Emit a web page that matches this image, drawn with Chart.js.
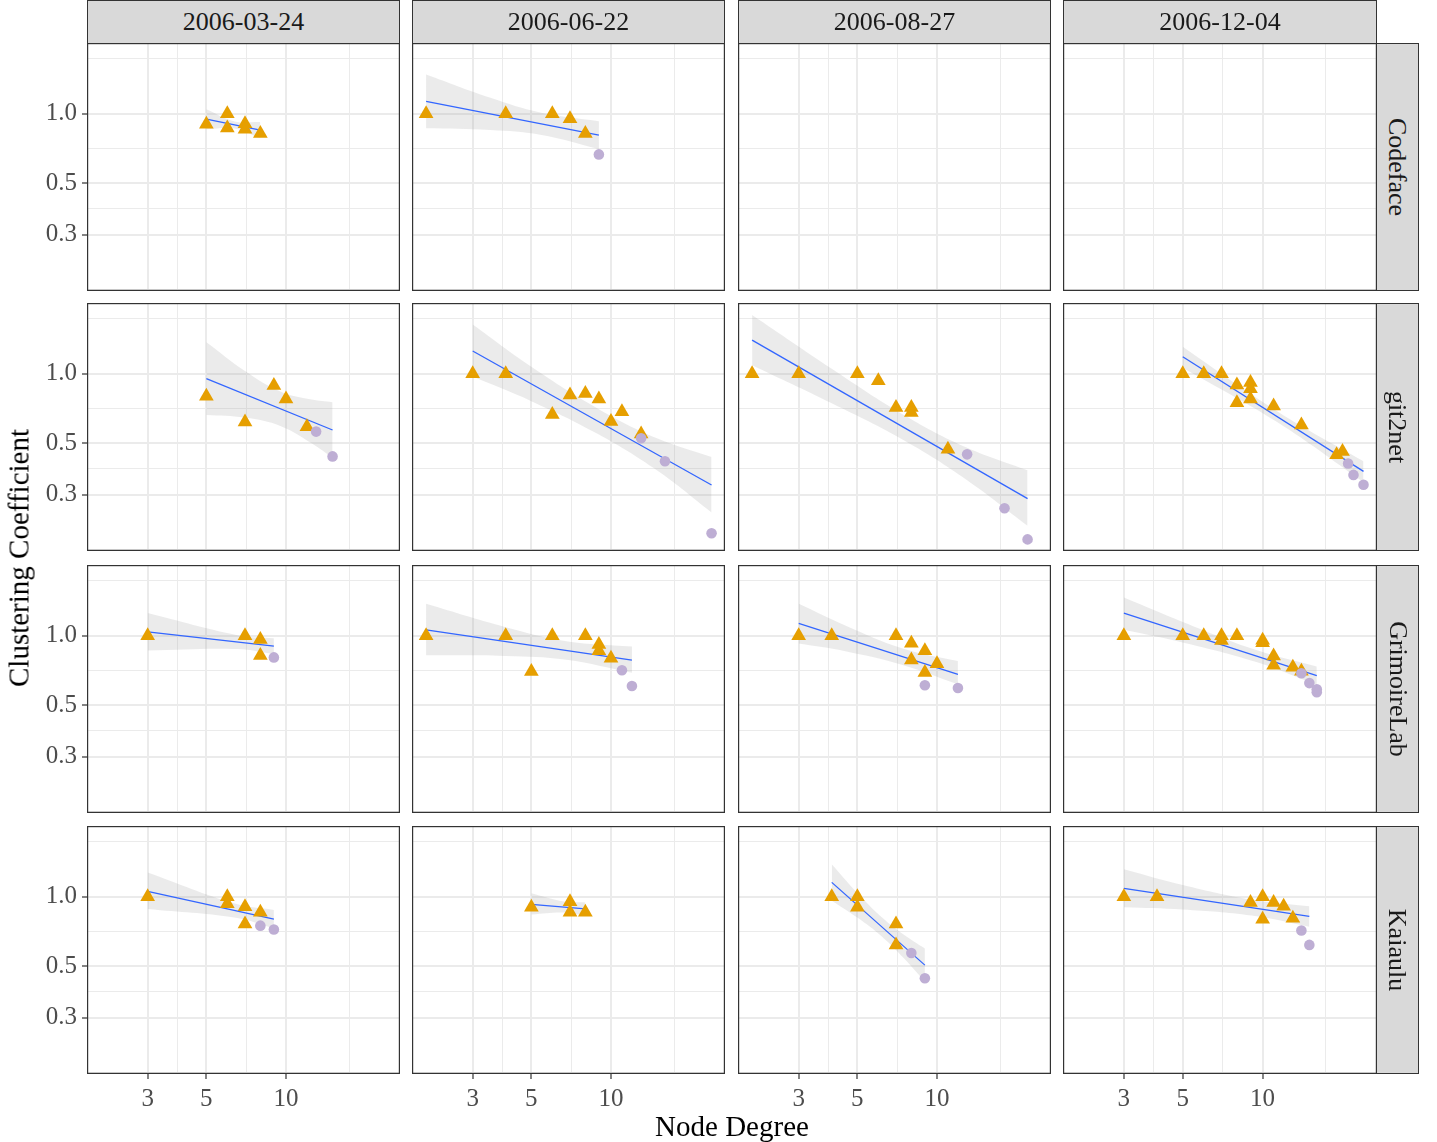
<!DOCTYPE html>
<html lang="en">
<head>
<meta charset="UTF-8">
<title>Clustering Coefficient vs Node Degree</title>
<style>
  body { margin: 0; background: #fff; font-family: "Liberation Serif", serif; }
  #wrap { position: relative; width: 1437px; height: 1142px; overflow: hidden; }
  canvas { position: absolute; }
  .strip { position: absolute; box-sizing: border-box; background: #d9d9d9; border: 1px solid #333;
           color: #1a1a1a; font-size: 26px; display: flex; align-items: center; justify-content: center; }
  .strip.right span { transform: rotate(90deg); white-space: nowrap; }
  .axis-title { position: absolute; font-size: 29px; color: #000; white-space: nowrap; }
</style>
</head>
<body>
<div id="wrap"></div>
<script src="https://cdn.jsdelivr.net/npm/chart.js"></script>
<script>
const dates = ["2006-03-24", "2006-06-22", "2006-08-27", "2006-12-04"];
const projects = ["Codeface", "git2net", "GrimoireLab", "Kaiaulu"];

const xMajor = [3, 5, 10];
const xMinor = [3.873, 7.071, 17.32];
const yMajor = [0.3, 0.5, 1.0];
const yMinor = [0.1732, 0.3873, 0.7071, 1.732];
const xRange = [1.769, 26.98];
const yRange = [0.171, 2.024];

// one entry per panel: project rows (Codeface, git2net, GrimoireLab, Kaiaulu) x date columns
const triDeg = [
  [5, 6, 6, 7, 7, 8], [2, 4, 6, 7, 8], [], [],
  [5, 7, 9, 10, 12], [3, 4, 6, 7, 8, 9, 11, 10, 13], [2, 3, 5, 6, 7, 8, 8, 11], [5, 6, 7, 8, 9, 9, 8, 9, 11, 14, 19, 20],
  [3, 7, 8, 8], [2, 4, 6, 8, 5, 9, 9, 10], [3, 4, 7, 8, 9, 8, 10, 9], [3, 5, 6, 7, 7, 8, 10, 10, 11, 11, 13, 14],
  [3, 6, 6, 7, 8, 7], [5, 7, 7, 8], [4, 5, 5, 7, 7], [3, 4, 9, 10, 11, 12, 10, 13]
];
const triCC = [
  [0.90, 1.0, 0.867, 0.905, 0.857, 0.821], [1.0, 1.0, 1.0, 0.952, 0.821], [], [],
  [0.80, 0.619, 0.889, 0.778, 0.59], [1.0, 1.0, 0.667, 0.81, 0.821, 0.778, 0.685, 0.622, 0.549],
  [1.0, 1.0, 1.0, 0.933, 0.714, 0.714, 0.679, 0.471],
  [1.0, 1.0, 1.0, 0.893, 0.917, 0.861, 0.75, 0.778, 0.725, 0.60, 0.446, 0.461],
  [1.0, 1.0, 0.964, 0.821], [1.0, 1.0, 1.0, 1.0, 0.70, 0.917, 0.861, 0.80],
  [1.0, 1.0, 1.0, 0.929, 0.861, 0.786, 0.756, 0.694],
  [1.0, 1.0, 1.0, 1.0, 0.953, 1.0, 0.956, 0.933, 0.818, 0.745, 0.731, 0.703],
  [1.0, 1.0, 0.933, 0.905, 0.857, 0.762], [0.90, 0.952, 0.857, 0.857], [1.0, 1.0, 0.90, 0.762, 0.619],
  [1.0, 1.0, 0.944, 1.0, 0.945, 0.909, 0.80, 0.808]
];
const circDeg = [
  [], [9], [], [],
  [13, 15], [13, 16, 24], [13, 18, 22], [21, 22, 24],
  [9], [11, 12], [9, 12], [14, 15, 16, 16],
  [8, 9], [], [8, 9], [14, 15]
];
const circCC = [
  [], [0.667], [], [],
  [0.562, 0.439], [0.526, 0.418, 0.204], [0.448, 0.262, 0.192], [0.409, 0.365, 0.331],
  [0.806], [0.709, 0.606], [0.611, 0.594], [0.688, 0.624, 0.587, 0.570],
  [0.75, 0.722], [], [0.571, 0.444], [0.714, 0.619]
];
const fitDeg = [
  [5, 8], [2, 9], [], [],
  [5, 15], [3, 24], [2, 22], [5, 24],
  [3, 9], [2, 12], [3, 12], [3, 16],
  [3, 9], [5, 8], [4, 9], [3, 15]
];
const fitCC = [
  [0.947, 0.849], [1.132, 0.808], [], [],
  [0.953, 0.571], [1.254, 0.330], [1.398, 0.288], [1.185, 0.378],
  [1.039, 0.901], [1.06, 0.785], [1.132, 0.681], [1.254, 0.672],
  [1.056, 0.800], [0.927, 0.886], [1.154, 0.506], [1.088, 0.822]
];
const bandDeg = [
  [5, 6.4, 8], [2, 3.5, 5.4, 9], [], [],
  [5, 7, 9.57, 12.5, 15], [3, 5, 8.93, 15, 24], [2, 4, 7.55, 13, 22], [5, 11.3, 24],
  [3, 6.55, 9], [2, 4, 6.78, 12], [3, 4.5, 7.36, 12], [3, 5, 9.47, 16],
  [3, 6.46, 9], [5, 6.65, 8], [4, 5, 6.2, 7.5, 9], [3, 5, 9.1, 15]
];
const bandHi = [
  [1.045, 0.925, 0.920], [1.479, 1.172, 1.013, 0.928], [], [],
  [1.37, 1.028, 0.836, 0.773, 0.753], [1.634, 1.072, 0.706, 0.524, 0.436],
  [1.797, 1.052, 0.660, 0.478, 0.382], [1.309, 0.690, 0.418],
  [1.254, 1.006, 0.976], [1.375, 1.089, 0.947, 0.898], [1.375, 1.109, 0.884, 0.777], [1.464, 1.148, 0.867, 0.736],
  [1.275, 0.932, 0.877], [1.035, 0.953, 0.945], [1.384, 1.039, 0.813, 0.685, 0.597], [1.317, 1.125, 0.971, 0.910]
];
const bandLo = [
  [0.858, 0.864, 0.783], [0.866, 0.851, 0.812, 0.704], [], [],
  [0.663, 0.646, 0.593, 0.500, 0.433], [0.972, 0.761, 0.548, 0.380, 0.251],
  [1.088, 0.745, 0.513, 0.3465, 0.220], [1.063, 0.620, 0.340],
  [0.863, 0.876, 0.832], [0.824, 0.818, 0.788, 0.692], [0.925, 0.858, 0.750, 0.617], [1.063, 0.936, 0.770, 0.613],
  [0.886, 0.812, 0.730], [0.838, 0.854, 0.826], [0.962, 0.813, 0.672, 0.542, 0.429], [0.901, 0.881, 0.829, 0.742]
];

// layout
const colLeft = [87, 412, 738, 1063];
const colWidth = [313, 313, 313, 314];
const rowTop = [43, 303, 565, 826];
const panelH = 248;
const leftAxisW = 87;
const bottomAxisH = 40;
const FONT = "Liberation Serif";

const wrap = document.getElementById("wrap");

function pts(xs, ys) {
  return xs.map((x, i) => ({ x: x, y: ys[i] }));
}

const frame = {
  id: "frame",
  afterDraw(chart) {
    const a = chart.chartArea, ctx = chart.ctx;
    ctx.save();
    ctx.strokeStyle = "#333";
    ctx.lineWidth = 1.2;
    ctx.strokeRect(a.left + 0.6, a.top + 0.6, a.right - a.left - 1.2, a.bottom - a.top - 1.2);
    ctx.restore();
  }
};

function axis(range, major, minor, showLabels, size, fmt) {
  const isMajor = c => c.tick && major.includes(c.tick.value);
  return {
    type: "logarithmic",
    min: range[0],
    max: range[1],
    afterBuildTicks: s => {
      s.ticks = major.concat(minor).sort((a, b) => a - b).map(v => ({ value: v }));
    },
    afterFit: s => {
      if (s.isHorizontal()) s.height = size; else s.width = size;
      s.paddingLeft = s.paddingRight = s.paddingTop = s.paddingBottom = 0;
    },
    border: { display: false },
    grid: {
      color: "#ebebeb",
      lineWidth: c => isMajor(c) ? 2 : 1,
      drawTicks: showLabels,
      tickLength: 5,
      tickWidth: 1.2,
      tickColor: c => isMajor(c) ? "#333" : "rgba(0,0,0,0)"
    },
    ticks: {
      display: showLabels,
      autoSkip: false,
      maxRotation: 0,
      padding: 5,
      color: "#4d4d4d",
      font: { family: FONT, size: 25 },
      callback: v => major.includes(v) ? fmt(v) : ""
    }
  };
}

for (let r = 0; r < 4; r++) {
  for (let c = 0; c < 4; c++) {
    const p = r * 4 + c;
    const padL = c === 0 ? leftAxisW : 0;
    const padB = r === 3 ? bottomAxisH : 0;
    const cv = document.createElement("canvas");
    cv.width = colWidth[c] + padL;
    cv.height = panelH + padB;
    cv.style.left = (colLeft[c] - padL) + "px";
    cv.style.top = rowTop[r] + "px";
    wrap.appendChild(cv);

    new Chart(cv, {
      type: "scatter",
      data: {
        datasets: [
          { data: pts(circDeg[p], circCC[p]), pointStyle: "circle", pointRadius: 5.3,
            backgroundColor: "#beaed4", borderWidth: 0, order: 0 },
          { data: pts(triDeg[p], triCC[p]), pointStyle: "triangle", pointRadius: 8.5,
            backgroundColor: "#e69f00", borderWidth: 0, order: 1 },
          { data: pts(fitDeg[p], fitCC[p]), showLine: true, borderColor: "#3366ff",
            borderWidth: 1.3, pointRadius: 0, order: 2 },
          { data: pts(bandDeg[p], bandHi[p]), showLine: true, borderColor: "transparent",
            borderWidth: 0, pointRadius: 0, tension: 0.4, order: 4 },
          { data: pts(bandDeg[p], bandLo[p]), showLine: true, borderColor: "transparent",
            borderWidth: 0, pointRadius: 0, tension: 0.4, order: 3,
            fill: "-1", backgroundColor: "rgba(153,153,153,0.2)" }
        ]
      },
      options: {
        responsive: false,
        animation: false,
        events: [],
        layout: { padding: 0, autoPadding: false },
        plugins: { legend: { display: false }, tooltip: { enabled: false } },
        scales: {
          x: axis(xRange, xMajor, xMinor, padB > 0, padB, v => String(v)),
          y: axis(yRange, yMajor, yMinor, padL > 0, padL, v => v.toFixed(1))
        }
      },
      plugins: [frame]
    });
  }
}

// facet strips
dates.forEach((d, c) => {
  const s = document.createElement("div");
  s.className = "strip";
  s.style.left = colLeft[c] + "px";
  s.style.top = "0px";
  s.style.width = colWidth[c] + "px";
  s.style.height = "44px";
  s.textContent = d;
  wrap.appendChild(s);
});
projects.forEach((name, r) => {
  const s = document.createElement("div");
  s.className = "strip right";
  s.style.left = "1376px";
  s.style.top = rowTop[r] + "px";
  s.style.width = "43px";
  s.style.height = panelH + "px";
  s.innerHTML = "<span>" + name + "</span>";
  wrap.appendChild(s);
});

// axis titles
const xt = document.createElement("div");
xt.className = "axis-title";
xt.textContent = "Node Degree";
xt.style.left = "732px";
xt.style.top = "1126px";
xt.style.transform = "translate(-50%, -50%)";
wrap.appendChild(xt);

const yt = document.createElement("div");
yt.className = "axis-title";
yt.textContent = "Clustering Coefficient";
yt.style.left = "19px";
yt.style.top = "558px";
yt.style.transform = "translate(-50%, -50%) rotate(-90deg)";
wrap.appendChild(yt);
</script>
</body>
</html>
